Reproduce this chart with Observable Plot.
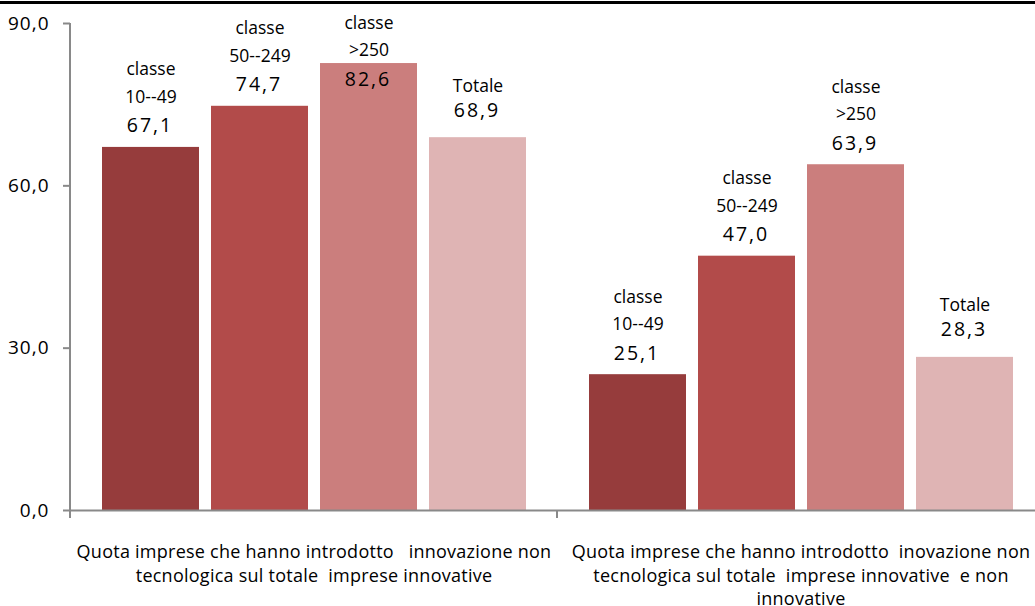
<!DOCTYPE html>
<html>
<head>
<meta charset="utf-8">
<script src="https://cdn.jsdelivr.net/npm/d3@7"></script>
<script src="https://cdn.jsdelivr.net/npm/@observablehq/plot@0.6"></script>
<style>
  html, body { margin: 0; padding: 0; overflow: hidden; background: #fff; width: 1035px; height: 606px; }
  #wrap { position: relative; width: 1035px; height: 606px; overflow: hidden; }
  #topline { position: absolute; left: 0; top: 1px; width: 1035px; height: 3px; background: #000; }
  #chart { position: absolute; left: 0; top: 0; }
  #chart svg { max-width: none !important; }
  svg text { white-space: pre; }
  .ls-y text, text.ls-y { letter-spacing: 1px; }
  .ls-v text, text.ls-v { letter-spacing: 2px; }
  .ls-f text, text.ls-f { letter-spacing: 0.25px; }
</style>
</head>
<body>
<div id="wrap"><div id="chart"></div><div id="topline"></div></div>
<script>
// ---- data ----
const groups = [
  "Quota imprese che hanno introdotto   innovazione non\ntecnologica sul totale  imprese innovative",
  "Quota imprese che hanno introdotto  inovazione non\ntecnologica sul totale  imprese innovative  e non\ninnovative"
];
const classes = ["classe\n10--49", "classe\n50--249", "classe\n>250", "Totale"];
const valuesGroup1 = [67.1, 74.7, 82.6, 68.9];
const valuesGroup2 = [25.1, 47.0, 63.9, 28.3];
const yTicks = [0, 30, 60, 90];
const colors = ["#963c3c", "#b24b4a", "#cb7e7d", "#dfb4b4"];

const data = [];
classes.forEach((c, i) => data.push({group: groups[0], cls: c, value: valuesGroup1[i]}));
classes.forEach((c, i) => data.push({group: groups[1], cls: c, value: valuesGroup2[i]}));

const labelCap = 75.7; // labels of tall bars stay inside the chart area
const fmt = v => v.toFixed(1).replace(".", ",");
const font = "'Open Sans', Lato, sans-serif";
const isTot = d => d.cls === "Totale";
const notTot = d => d.cls !== "Totale";

const labelOpts = (filter, dy) => ({
  fx: "group", x: "cls", filter,
  y: d => Math.min(d.value, labelCap),
  text: d => d.cls,
  lineAnchor: "bottom",
  lineHeight: 1.58,
  dy,
  fontSize: 17.5,
  fill: "#000"
});
const valueOpts = (filter, dy) => ({
  fx: "group", x: "cls", filter,
  y: d => Math.min(d.value, labelCap),
  text: d => fmt(d.value),
  lineAnchor: "bottom",
  dx: -1,
  dy,
  fontSize: 19.5,
  fill: "#000",
  className: "ls-v"
});

const plot = Plot.plot({
  width: 1046,
  height: 606,
  marginLeft: 69,
  marginRight: 2,
  marginTop: 23,
  marginBottom: 96,
  style: {fontFamily: font, background: "transparent", maxWidth: "none"},
  fx: {domain: groups, padding: 0, axis: null},
  x: {domain: classes, paddingInner: 0.112, paddingOuter: 0.2754, align: 0.5, axis: null},
  y: {domain: [0, 90], axis: null},
  color: {domain: classes, range: colors},
  marks: [
    Plot.barY(data, {fx: "group", x: "cls", y: "value", fill: "cls"}),
    Plot.ruleY([0], {stroke: "#898989", strokeWidth: 2}),
    Plot.axisY({
      ticks: yTicks,
      tickFormat: fmt,
      tickSize: 7,
      tickPadding: 14,
      stroke: "#898989",
      strokeWidth: 2,
      fill: "#000",
      fontSize: 19,
      label: null,
      className: "ls-y"
    }),
    Plot.text(data, labelOpts(notTot, -44.5)),
    Plot.text(data, labelOpts(isTot, -46)),
    Plot.text(data, valueOpts(notTot, -15)),
    Plot.text(data, valueOpts(isTot, -21)),
    Plot.text(groups, {
      fx: d => d,
      text: d => d,
      frameAnchor: "bottom",
      lineAnchor: "top",
      dy: 31,
      fontSize: 18,
      lineHeight: 1.3,
      fill: "#000",
      className: "ls-f"
    })
  ]
});

document.getElementById("chart").appendChild(plot);

// axis line and group separator ticks from the library's own scales
const svg = d3.select(plot.tagName.toLowerCase() === "svg" ? plot : plot.querySelector("svg"));
const fxScale = plot.scale("fx");
const yScale = plot.scale("y");
const y0 = yScale.apply(0), yTop = yScale.apply(90);
const xLeft = fxScale.apply(groups[0]);
const xSep = fxScale.apply(groups[1]);
const g = svg.append("g").attr("stroke", "#898989").attr("stroke-width", 2);
g.append("line").attr("x1", xLeft).attr("x2", xLeft).attr("y1", yTop).attr("y2", y0 + 8);
g.append("line").attr("x1", xSep).attr("x2", xSep).attr("y1", y0).attr("y2", y0 + 8);
</script>
</body>
</html>
